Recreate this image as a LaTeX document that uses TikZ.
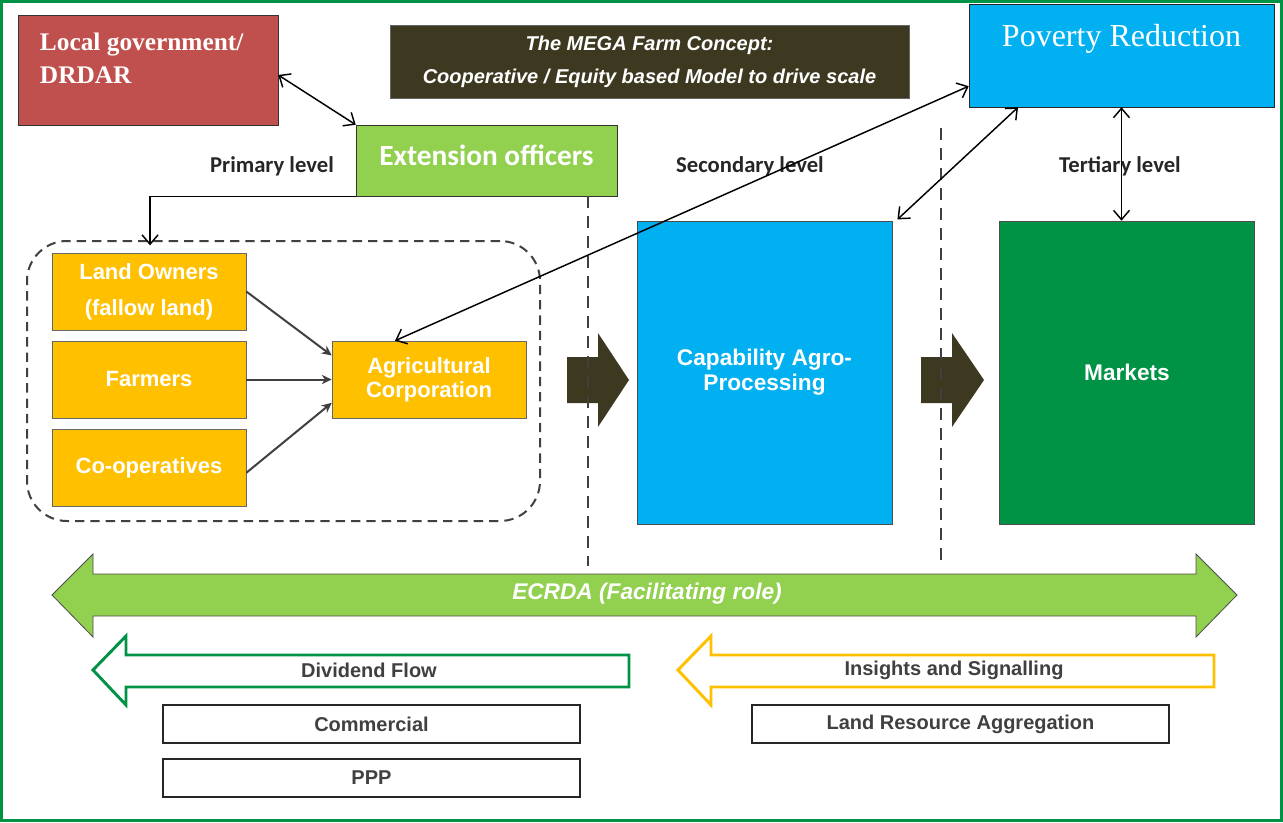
\documentclass[tikz,border=0pt]{standalone}
\usepackage{fontspec}
\setmainfont{Liberation Sans}
\newfontfamily\carlito{Carlito}
\newfontfamily\timesfont{Liberation Serif}
\usepackage{xcolor}
\usepackage{tikz}
\usetikzlibrary{shapes.geometric, arrows, arrows.meta, positioning}

\definecolor{govred}{RGB}{192,80,77}
\definecolor{conceptolive}{RGB}{61,57,33}
\definecolor{skyblue}{RGB}{0,176,240}
\definecolor{leafgreen}{RGB}{146,208,80}
\definecolor{forestgreen}{RGB}{0,146,69}
\definecolor{gold}{RGB}{255,192,0}
\definecolor{linegray}{RGB}{64,64,64}

\tikzstyle{govbox} = [rectangle, minimum width=195pt, minimum height=82.5pt, draw=black!80, fill=govred]
\tikzstyle{titlebox} = [rectangle, minimum width=389.25pt, minimum height=54.75pt, align=center, draw=black!60, fill=conceptolive, text=white, font=\bfseries\itshape\fontsize{15}{24.75}\selectfont]
\tikzstyle{goalbox} = [rectangle, minimum width=228.75pt, minimum height=77.25pt, draw=black!85, fill=skyblue]
\tikzstyle{officer} = [rectangle, minimum width=195.75pt, minimum height=53.25pt, text depth=7.5pt, draw=black!80, fill=leafgreen, text=white, font=\carlito\bfseries\fontsize{22}{24}\selectfont]
\tikzstyle{member} = [rectangle, minimum width=145.5pt, minimum height=57.75pt, align=center, draw=black!60, fill=gold, text=white, font=\bfseries\fontsize{16.5}{18}\selectfont]
\tikzstyle{stage} = [rectangle, minimum width=191pt, minimum height=227.25pt, align=center, draw=black!70, text=white, font=\bfseries\fontsize{17}{18.75}\selectfont]
\tikzstyle{level} = [font=\carlito\bfseries\fontsize{17}{19}\selectfont, text=black!85]
\tikzstyle{tag} = [rectangle, minimum width=312.75pt, minimum height=28.5pt, draw=black!85, line width=1.8pt, font=\bfseries\fontsize{15}{17}\selectfont, text=black!75]
\tikzstyle{flowtext} = [font=\bfseries\fontsize{15}{17}\selectfont, text=black!75]
\tikzstyle{arrow} = [line width=1.5pt, ->, >={Stealth[length=7.5pt,width=7pt]}, draw=linegray]
\tikzstyle{link} = [line width=1.1pt, <->, >={Straight Barb[length=7pt,width=12pt]}]
\tikzstyle{divider} = [line width=1.8pt, draw=linegray, dash pattern=on 9pt off 6pt]

\begin{document}
\begin{tikzpicture}[x=0.75pt, y=-0.75pt]
\useasboundingbox (0,0) rectangle (1283,822);

% Frame
\draw [forestgreen, line width=2.2pt] (1.5,1.5) rectangle (1281.5,820.5);

% Top Layer
\node (localgov) [govbox, label={[anchor=north west, inner sep=0pt, xshift=16.5pt, yshift=-13.5pt, align=left, text=white, font=\timesfont\bfseries\fontsize{19}{24.75}\selectfont]north west:{Local government/\\DRDAR}}] at (148,70) {};
\node (concept) [titlebox] at (649.5,61.5) {The MEGA Farm Concept:\\Cooperative / Equity based Model to drive scale};
\node (poverty) [goalbox, label={[anchor=north, inner sep=0pt, yshift=-15pt, text=white, font=\timesfont\fontsize{24}{26}\selectfont]north:Poverty Reduction}] at (1121.5,55.5) {};
\node (extension) [officer] at (486.5,160.5) {Extension officers};

% Level labels
\node (primary) [level] at (272,166) {Primary level};
\node (secondary) [level] at (750,166) {Secondary level};
\node (tertiary) [level] at (1120,166) {Tertiary level};

% Primary level: farm group
\node (cluster) [draw=linegray, line width=1.5pt, dash pattern=on 7pt off 4.5pt, rounded corners=30pt, minimum width=384.75pt, minimum height=210pt] at (283.5,381) {};
\node (owners) [member] at (149,291.5) {Land Owners\\[9pt](fallow land)};
\node (farmers) [member] at (149,379.5) {Farmers};
\node (coops) [member] at (149,467.5) {Co-operatives};
\node (agri) [member] at (429,379.5) {Agricultural\\Corporation};

% Flow arrows between levels
\fill [conceptolive] (567,357) -- (598,357) -- (598,333) -- (629,380) -- (598,427) -- (598,403) -- (567,403) -- cycle;
\fill [conceptolive] (921,357) -- (952,357) -- (952,333) -- (984,380) -- (952,427) -- (952,403) -- (921,403) -- cycle;

% Level dividers
\draw [divider] (588,196) -- (588,566);
\draw [divider] (941,128) -- (941,566);

% Secondary and tertiary level
\node (capability) [stage, fill=skyblue] at (764.5,372.5) {Capability Agro-\\Processing};
\node (markets) [stage, fill=forestgreen] at (1127,372.5) {Markets};

% ECRDA band
\draw [fill=leafgreen, draw=black!70, line width=0.6pt] (52,595) -- (93,554) -- (93,574) -- (1196,574) -- (1196,554) -- (1237,595) -- (1196,637) -- (1196,616) -- (93,616) -- (93,637) -- cycle;
\node (ecrda) [text=white, font=\bfseries\itshape\fontsize{17}{19}\selectfont] at (647,594) {ECRDA (Facilitating role)};

% Feedback flows
\draw [forestgreen, fill=white, line width=2.2pt] (93,670) -- (126,636) -- (126,655) -- (629,655) -- (629,687) -- (126,687) -- (126,705) -- cycle;
\node (dividend) [flowtext] at (369,670) {Dividend Flow};
\draw [gold, fill=white, line width=2.2pt] (678,670) -- (711,636) -- (711,655) -- (1214,655) -- (1214,687) -- (711,687) -- (711,705) -- cycle;
\node (insights) [flowtext] at (954,670) {Insights and Signalling};

% Models
\node (commercial) [tag] at (371.5,724) {Commercial};
\node (ppp) [tag] at (371.5,778) {PPP};
\node (landres) [tag] at (960.5,724) {Land Resource Aggregation};

% Arrows
\draw [arrow] (owners.east) -- ([yshift=18pt]agri.west);
\draw [arrow] (farmers.east) -- (agri.west);
\draw [arrow] ([yshift=-4pt]coops.east) -- ([yshift=-17.5pt]agri.west);
\draw [link] ([yshift=-3.75pt]localgov.east) -- (extension.north west);
\draw [->, >={Straight Barb[length=7pt,width=12pt]}, line width=1.1pt] (extension.south west) -| ([xshift=-100.1pt,yshift=-4pt]cluster.north);
\draw [link] ([yshift=-23pt]poverty.west) -- ([xshift=-25.5pt]agri.north);
\draw [link] ([xshift=-77.6pt]poverty.south) -- ([xshift=4pt,yshift=1pt]capability.north east);
\draw [link] (poverty.south) -- (poverty.south |- markets.north);

\end{tikzpicture}
\end{document}
